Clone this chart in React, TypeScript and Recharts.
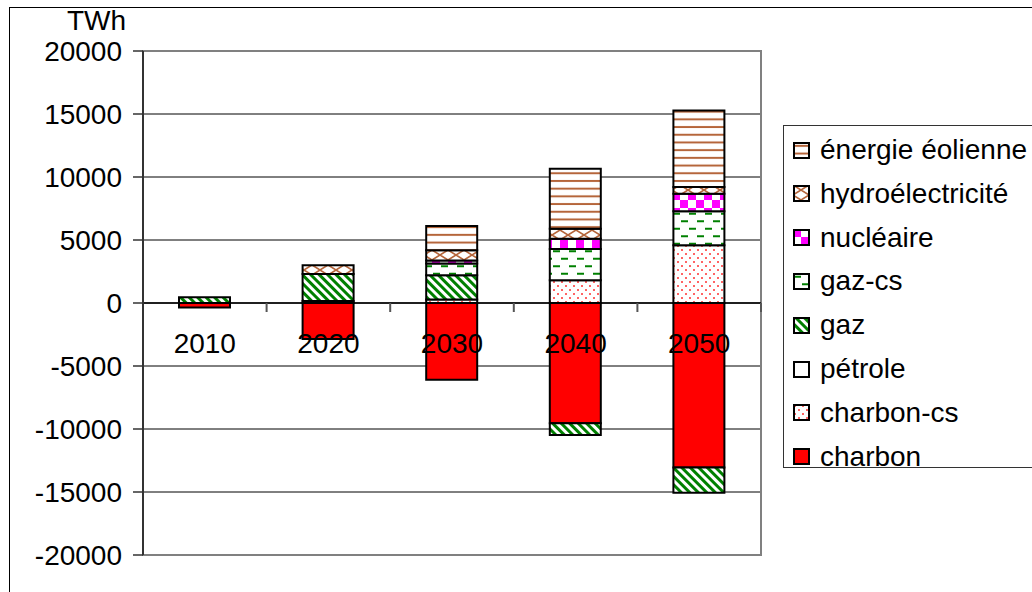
import {
  BarChart,
  Bar,
  XAxis,
  YAxis,
  CartesianGrid,
  ReferenceLine,
  ReferenceArea,
} from 'recharts'

const YEARS = ['2010', '2020', '2030', '2040', '2050']

// valeurs en TWh
const charbon = [-350, -2850, -6100, -9550, -13050]
const charbonCs = [0, 0, 270, 1800, 4580]
const petrole = [0, 150, 0, 0, 0]
const gaz = [450, 2150, 1930, -930, -2000]
const gazCs = [0, 0, 930, 2490, 2700]
const nucleaire = [0, 0, 250, 800, 1400]
const hydro = [0, 700, 800, 800, 530]
const eolien = [0, 0, 1930, 4770, 6070]

const Y_TICKS = [-20000, -15000, -10000, -5000, 0, 5000, 10000, 15000, 20000]

const FONT = '"Liberation Sans", Arial, sans-serif'

const SERIES = [
  { key: 'charbon', name: 'charbon', values: charbon, fill: '#ff0000' },
  { key: 'charbonCs', name: 'charbon-cs', values: charbonCs, fill: 'url(#pCharbonCs)' },
  { key: 'petrole', name: 'pétrole', values: petrole, fill: '#ffffff' },
  { key: 'gaz', name: 'gaz', values: gaz, fill: 'url(#pGaz)' },
  { key: 'gazCs', name: 'gaz-cs', values: gazCs, fill: 'url(#pGazCs)' },
  { key: 'nucleaire', name: 'nucléaire', values: nucleaire, fill: 'url(#pNuc)' },
  { key: 'hydro', name: 'hydroélectricité', values: hydro, fill: 'url(#pHydro)' },
  { key: 'eolien', name: 'énergie éolienne', values: eolien, fill: 'url(#pWind)' },
]

const data = YEARS.map((year, i) => {
  const row: Record<string, string | number> = { year }
  SERIES.forEach(s => {
    row[s.key] = s.values[i]
  })
  return row
})

// années + petits traits sous la ligne du zéro
function YearLabels(props: any) {
  const vb = props.viewBox
  if (!vb) return null
  const band = vb.width / YEARS.length
  return (
    <g>
      {[0, 1, 2, 3, 4, 5].map(i => (
        <line key={'t' + i} x1={vb.x + band * i} x2={vb.x + band * i} y1={vb.y} y2={vb.y + 9} stroke="#555" strokeWidth={2} />
      ))}
      {YEARS.map((yr, i) => (
        <text key={yr} x={vb.x + band * (i + 0.5)} y={vb.y + 50} textAnchor="middle" fontSize={28} fontFamily={FONT} fill="#000">
          {yr}
        </text>
      ))}
    </g>
  )
}

function Patterns() {
  return (
    <defs>
      <pattern id="pWind" width="10" height="7.7" patternUnits="userSpaceOnUse">
        <rect width="10" height="7.7" fill="#fff" />
        <line x1="0" x2="10" y1="3.85" y2="3.85" stroke="#b5653a" strokeWidth="2" />
      </pattern>
      <pattern id="pHydro" width="16" height="10" patternUnits="userSpaceOnUse">
        <rect width="16" height="10" fill="#fff" />
        <path d="M0,0 L16,10 M16,0 L0,10" stroke="#b5653a" strokeWidth="1.6" fill="none" />
      </pattern>
      <pattern id="pNuc" width="16" height="16" patternUnits="userSpaceOnUse">
        <rect width="16" height="16" fill="#fff" />
        <rect width="8" height="8" fill="#ff00ff" />
        <rect x="8" y="8" width="8" height="8" fill="#ff00ff" />
      </pattern>
      <pattern id="pGazCs" width="16" height="15" patternUnits="userSpaceOnUse">
        <rect width="16" height="15" fill="#fff" />
        <line x1="1" x2="8" y1="3.75" y2="3.75" stroke="#008000" strokeWidth="2" />
        <line x1="9" x2="16" y1="11.25" y2="11.25" stroke="#008000" strokeWidth="2" />
      </pattern>
      <pattern id="pGaz" width="6" height="6" patternUnits="userSpaceOnUse" patternTransform="rotate(-45)">
        <rect width="6" height="6" fill="#fff" />
        <rect width="3" height="6" fill="#008000" />
      </pattern>
      <pattern id="pCharbonCs" width="8" height="8" patternUnits="userSpaceOnUse">
        <rect width="8" height="8" fill="#fff" />
        <circle cx="2" cy="2" r="1" fill="#ff3030" />
        <circle cx="6" cy="6" r="1" fill="#ff3030" />
      </pattern>
    </defs>
  )
}

export default function App() {
  const legendItems = [...SERIES].reverse()

  return (
    <div style={{ position: 'fixed', left: 0, top: 0, width: 1032, height: 592, background: '#fff', overflow: 'hidden', fontFamily: FONT }}>
      <div style={{ position: 'absolute', left: 9, top: 7, width: 1100, height: 700, border: '1px solid #000' }} />

      <div style={{ position: 'absolute', left: 67, top: 7, fontSize: 28, lineHeight: '28px', color: '#000' }}>TWh</div>

      <div style={{ position: 'absolute', left: 0, top: 0 }}>
        <BarChart
          width={1032}
          height={592}
          data={data}
          stackOffset="sign"
          margin={{ top: 51, right: 271, bottom: 37, left: 0 }}
          barSize={51}
        >
          <Patterns />
          <CartesianGrid vertical={false} stroke="#000" strokeWidth={1} />
          <XAxis dataKey="year" hide />
          <YAxis
            width={143}
            domain={[-20000, 20000]}
            ticks={Y_TICKS}
            interval={0}
            allowDataOverflow
            axisLine={{ stroke: '#333', strokeWidth: 2 }}
            tickLine={{ stroke: '#333', strokeWidth: 1.5 }}
            tickSize={10}
            tickMargin={11}
            tick={{ fontSize: 28, fill: '#000', fontFamily: FONT }}
          />
          <ReferenceArea y1={-20000} y2={20000} fill="none" stroke="#808080" strokeWidth={2} fillOpacity={0} />
          {SERIES.map(s => (
            <Bar
              key={s.key}
              dataKey={s.key}
              name={s.name}
              stackId="a"
              fill={s.fill}
              stroke="#000"
              strokeWidth={2}
              isAnimationActive={false}
            />
          ))}
          <ReferenceLine y={0} stroke="#000" strokeWidth={1.5} label={<YearLabels />} />
        </BarChart>
      </div>

      <div
        style={{
          position: 'absolute',
          left: 783,
          top: 125,
          width: 270,
          height: 343,
          border: '1px solid #333',
          boxSizing: 'border-box',
        }}
      >
        {legendItems.map((s, i) => (
          <div
            key={s.key}
            style={{ position: 'absolute', left: 9, top: 6 + i * 43.8, height: 36, display: 'flex', alignItems: 'center', whiteSpace: 'nowrap' }}
          >
            <svg width={17} height={17} style={{ marginRight: 10 }}>
              <rect x={1} y={1} width={15} height={15} fill={s.fill} stroke="#000" strokeWidth={2} />
            </svg>
            <span style={{ fontSize: 28, color: '#000' }}>{s.name}</span>
          </div>
        ))}
      </div>
    </div>
  )
}
